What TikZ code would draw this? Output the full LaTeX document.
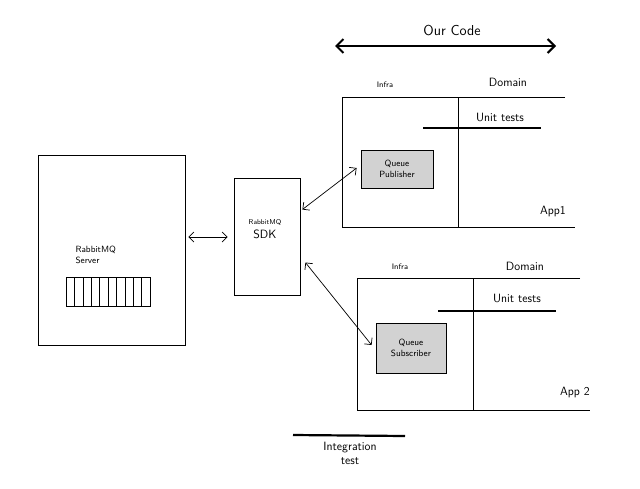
\documentclass[tikz,border=0pt]{standalone}
\usepackage{tikz}
\usetikzlibrary{arrows.meta}

\tikzset{
  box/.style={draw, line width=0.8, inner sep=0},
  queuebox/.style={draw, line width=0.8, fill=gray!35, align=center, font=\sffamily\small, inner sep=2},
  link/.style={{Straight Barb[length=5]}-{Straight Barb[length=5]}, line width=0.7},
  testbar/.style={line width=2.2},
  hand/.style={font=\sffamily}
}

\begin{document}
\begin{tikzpicture}[x=1pt,y=-1pt]
\useasboundingbox (0,0) rectangle (640,488);

% our code
\node[hand, font=\sffamily\Large] (ourcode) at (452,30) {Our Code};
\coordinate (codeL) at (335,46);
\coordinate (codeR) at (556,46);
\draw[{Straight Barb[length=7]}-{Straight Barb[length=7]}, line width=2] (codeL) -- (codeR);

% rabbitmq server
\node[box, minimum width=147, minimum height=190] (server) at (111.5,250) {};
\node[hand, align=left, font=\sffamily\small, anchor=west] (servertext) at (72,255) {RabbitMQ\\Server};
\node[box, minimum width=84, minimum height=29, anchor=north west] (queue) at (66,277) {};
\foreach \i in {1,...,9}
  \draw[line width=0.6] ([xshift=\i*8.4]queue.north west) -- ([xshift=\i*8.4]queue.south west);

% sdk
\node[box, minimum width=66, minimum height=117] (sdk) at (267,236.5) {};
\node[hand, align=center, font=\sffamily\large] (sdktext) at (265,229) {{\scriptsize RabbitMQ}\\SDK};

\draw[link] ([xshift=3,yshift=13]server.east) -- ([xshift=-6,yshift=-0.5]sdk.west);

% app 1
\draw[line width=0.8] (565,97) -- (342,97) -- (342,227) -- (575,227);
\draw[line width=0.8] (458,97) -- (458,227);
\node[hand, font=\sffamily\footnotesize] (infra1) at (385,85) {Infra};
\node[hand, font=\sffamily\large] (domain1) at (508,82) {Domain};
\node[hand, font=\sffamily\large] (unit1) at (500,117) {Unit tests};
\draw[testbar] (423,128) -- (541,128);
\node[queuebox, minimum width=72, minimum height=38] (publisher) at (397,169) {Queue\\Publisher};
\node[hand, font=\sffamily\large] (app1) at (553,211) {App1};

% app 2
\draw[line width=0.8] (580,278) -- (357,278) -- (357,410) -- (590,410);
\draw[line width=0.8] (473,278) -- (473,410);
\node[hand, font=\sffamily\footnotesize] (infra2) at (400,267) {Infra};
\node[hand, font=\sffamily\large] (domain2) at (525,266) {Domain};
\node[hand, font=\sffamily\large] (unit2) at (517,298) {Unit tests};
\draw[testbar] (438,311) -- (556,311);
\node[queuebox, minimum width=70, minimum height=50] (subscriber) at (411,348) {Queue\\Subscriber};
\node[hand, font=\sffamily\large] (app2) at (575,392) {App 2};

% links from sdk
\draw[link] ([xshift=2,yshift=27]sdk.east) -- ([xshift=-4,yshift=1]publisher.west);
\draw[link] ([xshift=5,yshift=-26]sdk.east) -- ([xshift=-4,yshift=3]subscriber.west);

% integration test
\draw[testbar] (293,435) -- (405,436);
\node[hand, align=center, font=\sffamily\large] (integ) at (350,453) {Integration\\test};
\end{tikzpicture}
\end{document}
